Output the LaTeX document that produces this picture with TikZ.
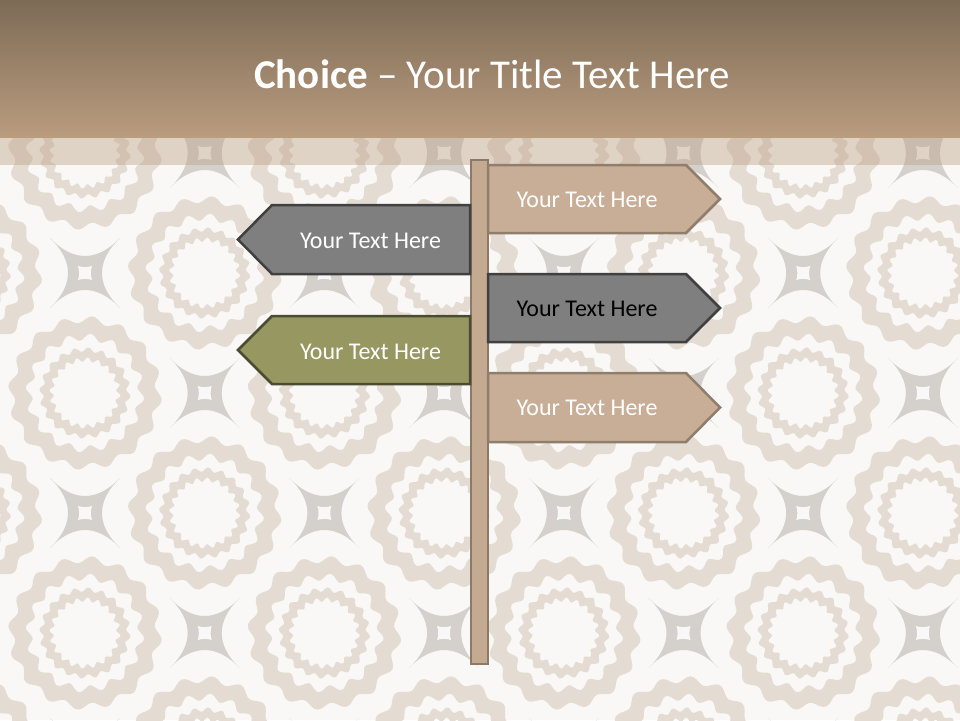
\documentclass[tikz,border=0pt]{standalone}
\usepackage{fontspec}
\setmainfont{Carlito}
\definecolor{bgc}{RGB}{249,248,246}
\definecolor{ringc}{RGB}{228,220,211}
\definecolor{starc}{RGB}{212,208,204}
\definecolor{bartop}{RGB}{125,107,86}
\definecolor{barbot}{RGB}{186,156,127}
\definecolor{tanfill}{RGB}{200,174,150}
\definecolor{tanline}{RGB}{143,126,108}
\definecolor{grayfill}{RGB}{127,127,127}
\definecolor{grayline}{RGB}{64,64,64}
\definecolor{olivefill}{RGB}{151,151,98}
\definecolor{oliveline}{RGB}{75,75,50}
\definecolor{postfill}{RGB}{196,170,144}
\definecolor{postline}{RGB}{140,122,104}
\begin{document}
\begin{tikzpicture}[x=1pt,y=-1pt,
  tansign/.style={fill=tanfill,draw=tanline,line width=2.5pt,line join=miter},
  graysign/.style={fill=grayfill,draw=grayline,line width=2.5pt,line join=miter},
  olivesign/.style={fill=olivefill,draw=oliveline,line width=2.5pt,line join=miter},
  signtext/.style={font=\fontsize{24}{29}\selectfont,anchor=base,inner sep=0pt},
  ringband/.style={fill=ringc,even odd rule}]
\useasboundingbox (0,0) rectangle (960,720);
\fill[bgc] (0,0) rectangle (960,720);
% background pattern
\begin{scope}
\clip (0,137) rectangle (960,720);
\foreach \i in {-1,...,8} {
  \foreach \j in {-3,...,2} {
    \pgfmathsetmacro\cx{85+119.7*\i}
    \pgfmathsetmacro\cy{513+120*\j}
    \pgfmathtruncatemacro\parity{mod(\i+\j+20,2)}
    \ifnum\parity=1
      \fill[ringband,shift={(\cx,\cy)}]
        plot[smooth cycle,domain=0:357.5,samples=144] (\x:{73.5+3.5*sin(16*\x)})
        plot[smooth cycle,domain=0:357.5,samples=144] (\x:{56+3.5*sin(16*\x)});
      \fill[ringband,shift={(\cx,\cy)}]
        plot[smooth cycle,domain=0:357.5,samples=144] (\x:{43.5+2.2*sin(20*\x)})
        plot[smooth cycle,domain=0:357.5,samples=144] (\x:{33.5+2.2*sin(20*\x)});
    \else
      \fill[starc,shift={(\cx,\cy)}]
        (35,35) .. controls (12,11) and (-12,11) .. (-35,35)
        .. controls (-11,12) and (-11,-12) .. (-35,-35)
        .. controls (-12,-11) and (12,-11) .. (35,-35)
        .. controls (11,-12) and (11,12) .. (35,35) -- cycle;
      \fill[bgc,shift={(\cx,\cy)}]
        (7,7) .. controls (2.5,5.5) and (-2.5,5.5) .. (-7,7)
        .. controls (-5.5,2.5) and (-5.5,-2.5) .. (-7,-7)
        .. controls (-2.5,-5.5) and (2.5,-5.5) .. (7,-7)
        .. controls (5.5,-2.5) and (5.5,2.5) .. (7,7) -- cycle;
    \fi
  }
}
\end{scope}
% title bar
\shade[top color=bartop,bottom color=barbot] (0,0) rectangle (960,137);
\fill[barbot,opacity=0.4] (0,137) rectangle (960,165);
\node[font=\fontsize{41}{49}\selectfont,text=white,anchor=base,inner sep=0pt] (title) at (492,88)
  {\textbf{Choice} – Your Title Text Here};
% post
\draw[fill=postfill,draw=postline,line width=2pt] (471,160) rectangle (488,664);
% signs
\draw[tansign] (488,165) -- (686,165) -- (720,199) -- (686,233) -- (488,233) -- cycle;
\draw[graysign] (470,205) -- (272,205) -- (238,239.5) -- (272,274) -- (470,274) -- cycle;
\draw[graysign] (488,274) -- (686,274) -- (720,308) -- (686,342) -- (488,342) -- cycle;
\draw[olivesign] (470,316) -- (272,316) -- (238,350) -- (272,384) -- (470,384) -- cycle;
\draw[tansign] (488,373) -- (686,373) -- (720,407.5) -- (686,442) -- (488,442) -- cycle;
\node[signtext,text=white] (s1) at (587,207.5) {Your Text Here};
\node[signtext,text=white] (s2) at (370.5,248) {Your Text Here};
\node[signtext,text=black] (s3) at (587,316.5) {Your Text Here};
\node[signtext,text=white] (s4) at (370.5,359) {Your Text Here};
\node[signtext,text=white] (s5) at (587,415.5) {Your Text Here};
\end{tikzpicture}
\end{document}
